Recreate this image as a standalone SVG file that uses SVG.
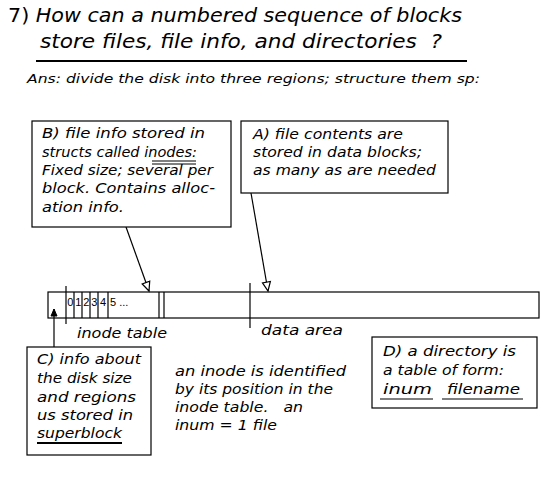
<svg xmlns="http://www.w3.org/2000/svg" width="560" height="480" viewBox="0 0 560 480">
<style>
text{font-family:"DejaVu Sans","Liberation Sans",sans-serif;font-style:italic;fill:#000}
.t{font-size:20px}
.s{font-size:12px}
.b{font-size:13.5px}
.d{font-family:"Liberation Sans",sans-serif;font-size:11px;font-style:normal}
.box{fill:#fff;stroke:#000;stroke-width:1.2}
.ln{stroke:#000;stroke-width:1.2;fill:none}
</style>
<defs>
<marker id="ah" markerUnits="userSpaceOnUse" markerWidth="12" markerHeight="12" refX="9" refY="4" orient="auto" viewBox="-1 -1 12 10">
<path d="M0,0 L9,4 L0,8 Z" fill="#fff" stroke="#000" stroke-width="1.2"/>
</marker>
<marker id="ah2" markerUnits="userSpaceOnUse" markerWidth="10" markerHeight="10" refX="7" refY="3" orient="auto" viewBox="-1 -1 10 8">
<path d="M0,0 L7,3 L0,6 Z" fill="#000" stroke="#000" stroke-width="1"/>
</marker>
</defs>
<rect width="560" height="480" fill="#fff"/>

<g id="title">
<text class="t" x="8" y="22" textLength="454" lengthAdjust="spacingAndGlyphs"><tspan font-style="normal">7)</tspan> How can a numbered sequence of blocks</text>
<text class="t" x="40" y="48" textLength="402" lengthAdjust="spacingAndGlyphs" xml:space="preserve">store files, file info, and directories  ?</text>
<line x1="36" y1="61" x2="467" y2="61" stroke="#000" stroke-width="2"/>
</g>
<g id="answer">
<text class="s" x="27" y="83" textLength="453" lengthAdjust="spacingAndGlyphs">Ans: divide the disk into three regions; structure them sp:</text>
</g>

<g id="connectors">
<line class="ln" x1="126" y1="227" x2="149" y2="291" marker-end="url(#ah)"/>
<line class="ln" x1="251" y1="193" x2="268" y2="291" marker-end="url(#ah)"/>
<line class="ln" x1="54" y1="347" x2="54" y2="309" marker-end="url(#ah2)"/>
</g>

<g id="disk">
<rect x="48" y="292" width="491" height="26" fill="none" stroke="#000" stroke-width="1.2"/>
<line class="ln" x1="66" y1="286" x2="66" y2="324"/>
<line class="ln" x1="74" y1="292" x2="74" y2="318"/>
<line class="ln" x1="82" y1="292" x2="82" y2="318"/>
<line class="ln" x1="90" y1="292" x2="90" y2="318"/>
<line class="ln" x1="98" y1="292" x2="98" y2="318"/>
<line class="ln" x1="108" y1="292" x2="108" y2="318"/>
<line class="ln" x1="159" y1="292" x2="159" y2="318"/>
<line class="ln" x1="164" y1="292" x2="164" y2="318"/>
<line class="ln" x1="250" y1="283" x2="250" y2="328"/>
<text class="d" x="67.3" y="306">0</text>
<text class="d" x="75.3" y="306">1</text>
<text class="d" x="83.3" y="306">2</text>
<text class="d" x="91.3" y="306">3</text>
<text class="d" x="100" y="306">4</text>
<text class="d" x="110" y="306">5 ...</text>
<text class="b" x="77" y="338" textLength="90" lengthAdjust="spacingAndGlyphs">inode table</text>
<text class="b" x="261" y="335" textLength="82" lengthAdjust="spacingAndGlyphs">data area</text>
</g>

<g id="nodeB">
<rect class="box" x="32" y="121" width="199" height="106"/>
<text class="b" x="42" y="138" textLength="163" lengthAdjust="spacingAndGlyphs">B) file info stored in</text>
<text class="b" x="42" y="157" textLength="155" lengthAdjust="spacingAndGlyphs">structs called inodes:</text>
<text class="b" x="42" y="175" textLength="171" lengthAdjust="spacingAndGlyphs">Fixed size; several per</text>
<text class="b" x="42" y="193" textLength="173" lengthAdjust="spacingAndGlyphs">block. Contains alloc-</text>
<text class="b" x="42" y="212" textLength="82" lengthAdjust="spacingAndGlyphs">ation info.</text>
<line class="ln" x1="152" y1="161" x2="196" y2="161"/>
<line class="ln" x1="152" y1="164" x2="196" y2="164"/>
</g>

<g id="nodeA">
<rect class="box" x="241" y="121" width="207" height="72"/>
<text class="b" x="253" y="139" textLength="150" lengthAdjust="spacingAndGlyphs">A) file contents are</text>
<text class="b" x="253" y="157" textLength="169" lengthAdjust="spacingAndGlyphs">stored in data blocks;</text>
<text class="b" x="253" y="175" textLength="183" lengthAdjust="spacingAndGlyphs">as many as are needed</text>
</g>

<g id="nodeC">
<rect class="box" x="27" y="347" width="124" height="108"/>
<text class="b" x="37" y="364" textLength="104" lengthAdjust="spacingAndGlyphs">C) info about</text>
<text class="b" x="37" y="383" textLength="95" lengthAdjust="spacingAndGlyphs">the disk size</text>
<text class="b" x="37" y="402" textLength="99" lengthAdjust="spacingAndGlyphs">and regions</text>
<text class="b" x="37" y="420" textLength="96" lengthAdjust="spacingAndGlyphs">us stored in</text>
<text class="b" x="37" y="438" textLength="85" lengthAdjust="spacingAndGlyphs">superblock</text>
<line x1="37" y1="443" x2="122" y2="443" stroke="#000" stroke-width="2"/>
</g>

<g id="note">
<text class="b" x="175" y="376" textLength="171" lengthAdjust="spacingAndGlyphs">an inode is identified</text>
<text class="b" x="175" y="394" textLength="158" lengthAdjust="spacingAndGlyphs">by its position in the</text>
<text class="b" x="175" y="412" textLength="128" lengthAdjust="spacingAndGlyphs" xml:space="preserve">inode table.   an</text>
<text class="b" x="175" y="430" textLength="102" lengthAdjust="spacingAndGlyphs">inum = 1 file</text>
</g>

<g id="nodeD">
<rect class="box" x="372" y="337" width="165" height="71"/>
<text class="b" x="383" y="356" textLength="133" lengthAdjust="spacingAndGlyphs">D) a directory is</text>
<text class="b" x="383" y="375" textLength="121" lengthAdjust="spacingAndGlyphs">a table of form:</text>
<text class="b" x="383" y="394" textLength="49" lengthAdjust="spacingAndGlyphs">inum</text>
<text class="b" x="447" y="394" textLength="73" lengthAdjust="spacingAndGlyphs">filename</text>
<line class="ln" x1="380" y1="399" x2="433" y2="399"/>
<line class="ln" x1="442" y1="399" x2="523" y2="399"/>
</g>
</svg>
